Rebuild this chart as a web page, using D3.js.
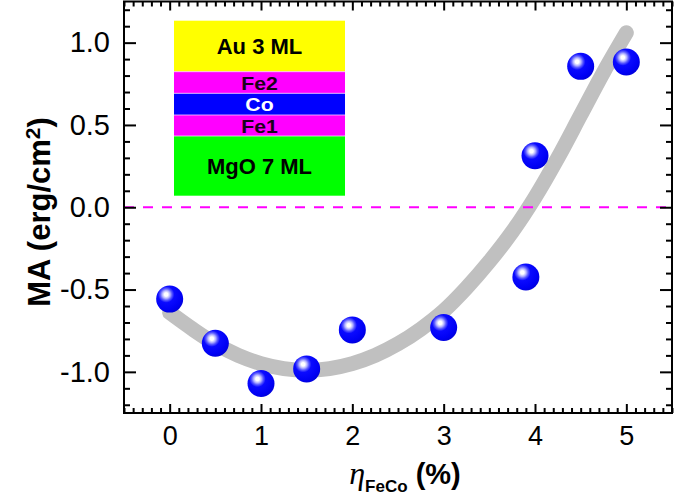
<!DOCTYPE html>
<html>
<head>
<meta charset="utf-8">
<script src="https://cdn.jsdelivr.net/npm/d3@7"></script>
<style>
  html, body { margin: 0; padding: 0; background: #fff; }
  svg { display: block; }
  text { font-family: "Liberation Sans", Arial, sans-serif; }
</style>
</head>
<body>
<svg id="chart" width="675" height="500"></svg>
<script>
// ---------------- data ----------------
const etaValues = [0, 0.5, 1, 1.5, 2, 3, 3.9, 4, 4.5, 5];
const maValues  = [-0.558, -0.826, -1.071, -0.982, -0.745, -0.731, -0.424, 0.313, 0.856, 0.882];

// smooth fit curve
const fitEta = [0, 0.25, 0.5, 0.75, 1, 1.25, 1.5, 1.75, 2, 2.25, 2.5, 2.75, 3, 3.25, 3.5, 3.75, 4, 4.25, 4.5, 4.75, 5];
const fitMA  = [-0.64, -0.74, -0.83, -0.90, -0.95, -0.98, -0.99, -0.98, -0.95, -0.90, -0.83, -0.74, -0.63, -0.49, -0.33, -0.15, 0.06, 0.30, 0.56, 0.82, 1.06];

const xTickValues = [0, 1, 2, 3, 4, 5];
const xTickLabels = ["0", "1", "2", "3", "4", "5"];
const yTickValues = [-1.0, -0.5, 0.0, 0.5, 1.0];
const yTickLabels = ["-1.0", "-0.5", "0.0", "0.5", "1.0"];

const layerNames  = ["Au 3 ML", "Fe2", "Co", "Fe1", "MgO 7 ML"];
const layerColors = ["#ffff00", "#ff00ff", "#0000ff", "#ff00ff", "#00ff00"];
const layerText   = ["#000000", "#1a001a", "#ffffff", "#1a001a", "#000000"];

// ---------------- layout ----------------
const svg = d3.select("#chart");
const pLeft = 124, pRight = 672, pTop = 1.5, pBottom = 413;

const x = d3.scaleLinear().domain([-0.5, 5.5]).range([pLeft, pRight]);
const y = d3.scaleLinear().domain([-1.25, 1.25]).range([pBottom, pTop]);

svg.append("rect").attr("width", 675).attr("height", 500).attr("fill", "#fff");

// gradient for spheres
const defs = svg.append("defs");
const grad = defs.append("radialGradient").attr("id", "sphere")
  .attr("cx", 0.37).attr("cy", 0.33).attr("r", 0.72).attr("fx", 0.37).attr("fy", 0.33);
[[0, "#ffffff"], [0.09, "#ffffff"], [0.2, "#b4b4ff"], [0.3, "#5a5aff"], [0.42, "#0a0aff"], [0.8, "#0000f4"], [1, "#0000d8"]]
  .forEach(([o, c]) => grad.append("stop").attr("offset", o).attr("stop-color", c));

// ---------------- fit curve ----------------
const fitPts = fitEta.map((v, i) => [v, fitMA[i]]);
svg.append("path")
  .datum(fitPts)
  .attr("d", d3.line().x(d => x(d[0])).y(d => y(d[1])).curve(d3.curveCatmullRom))
  .attr("fill", "none")
  .attr("stroke", "#c0c0c0")
  .attr("stroke-width", 15)
  .attr("stroke-linecap", "round");

// ---------------- zero line ----------------
svg.append("line")
  .attr("x1", x(-0.5)).attr("x2", x(5.5))
  .attr("y1", y(0)).attr("y2", y(0))
  .attr("stroke", "#ff00ff").attr("stroke-width", 2)
  .attr("stroke-dasharray", "10,9");

// ---------------- axes ----------------
const xMinor = d3.range(-5, 56).map(d => d / 10).filter(d => Math.abs(d - Math.round(d)) > 1e-6);
const yMinor = d3.range(-12, 13).map(d => d / 10).filter(d => Math.abs(d * 2 - Math.round(d * 2)) > 1e-6);

function styleAxis(g) {
  g.select(".domain").remove();
  g.selectAll("line").attr("stroke", "#000").attr("stroke-width", 2);
  g.selectAll("text").attr("fill", "#000").style("font-family", "'Liberation Sans', Arial, sans-serif");
}

// bottom
svg.append("g").attr("transform", `translate(0,${pBottom})`)
  .call(d3.axisBottom(x).tickValues(xTickValues).tickSize(-9).tickPadding(13)
        .tickFormat((d, i) => xTickLabels[i]))
  .call(styleAxis)
  .selectAll("text").style("font-size", "27px");
svg.append("g").attr("transform", `translate(0,${pBottom})`)
  .call(d3.axisBottom(x).tickValues(xMinor).tickSize(-5).tickFormat(""))
  .call(styleAxis);
// top
svg.append("g").attr("transform", `translate(0,${pTop})`)
  .call(d3.axisTop(x).tickValues(xTickValues).tickSize(-9).tickFormat(""))
  .call(styleAxis);
svg.append("g").attr("transform", `translate(0,${pTop})`)
  .call(d3.axisTop(x).tickValues(xMinor).tickSize(-5).tickFormat(""))
  .call(styleAxis);
// left
svg.append("g").attr("transform", `translate(${pLeft},0)`)
  .call(d3.axisLeft(y).tickValues(yTickValues).tickSize(-12).tickPadding(14)
        .tickFormat((d, i) => yTickLabels[i]))
  .call(styleAxis)
  .selectAll("text").style("font-size", "29px");
svg.append("g").attr("transform", `translate(${pLeft},0)`)
  .call(d3.axisLeft(y).tickValues(yMinor).tickSize(-6).tickFormat(""))
  .call(styleAxis);
// right
svg.append("g").attr("transform", `translate(${pRight},0)`)
  .call(d3.axisRight(y).tickValues(yTickValues).tickSize(-12).tickFormat(""))
  .call(styleAxis);
svg.append("g").attr("transform", `translate(${pRight},0)`)
  .call(d3.axisRight(y).tickValues(yMinor).tickSize(-6).tickFormat(""))
  .call(styleAxis);

// frame
svg.append("rect")
  .attr("x", pLeft).attr("y", pTop)
  .attr("width", pRight - pLeft).attr("height", pBottom - pTop)
  .attr("fill", "none").attr("stroke", "#000").attr("stroke-width", 2);

// ---------------- data points ----------------
svg.append("g").selectAll("circle")
  .data(etaValues.map((v, i) => [v, maValues[i]]))
  .join("circle")
  .attr("cx", d => x(d[0]))
  .attr("cy", d => y(d[1]))
  .attr("r", 13.5)
  .attr("fill", "url(#sphere)");

// ---------------- layer stack inset ----------------
const stackX0 = 174, stackX1 = 345;
const layerEdges = [20.7, 71.7, 93.3, 115, 136, 195.7];
const layerFont = [22, 19, 19, 19, 22];
const inset = svg.append("g");
layerNames.forEach((name, i) => {
  inset.append("rect")
    .attr("x", stackX0).attr("y", layerEdges[i])
    .attr("width", stackX1 - stackX0).attr("height", layerEdges[i + 1] - layerEdges[i])
    .attr("fill", layerColors[i]);
  const t = inset.append("text")
    .attr("x", (stackX0 + stackX1) / 2)
    .attr("y", (layerEdges[i] + layerEdges[i + 1]) / 2)
    .attr("dy", "0.37em")
    .attr("text-anchor", "middle")
    .attr("fill", layerText[i])
    .style("font-size", layerFont[i] + "px").style("font-weight", "bold")
    .text(name);
  if (layerFont[i] < 20) {
    const w = t.node().getComputedTextLength();
    t.attr("textLength", w * 1.12).attr("lengthAdjust", "spacingAndGlyphs");
  }
});
[71.7, 93.3, 115, 136].forEach(e => {
  inset.append("line").attr("x1", stackX0).attr("x2", stackX1)
    .attr("y1", e).attr("y2", e).attr("stroke", "#ffd0ff").attr("stroke-width", 0.8);
});

// ---------------- axis titles ----------------
const yt = svg.append("text")
  .attr("transform", "translate(50,212) rotate(-90)")
  .attr("text-anchor", "middle")
  .style("font-size", "31px").style("font-weight", "bold").attr("fill", "#000");
yt.append("tspan").text("MA (erg/cm");
yt.append("tspan").attr("dy", "-0.5em").style("font-size", "21px").text("2");
yt.append("tspan").attr("dy", "0.34em").text(")");

const xt = svg.append("text")
  .attr("x", 405).attr("y", 484)
  .attr("text-anchor", "middle").attr("fill", "#000");
xt.append("tspan").style("font-family", "'Liberation Serif', 'Times New Roman', serif")
  .style("font-style", "italic").style("font-size", "32px").text("η");
xt.append("tspan").attr("dy", "0.45em").style("font-size", "17px").style("font-weight", "bold").text("FeCo");
xt.append("tspan").attr("dy", "-0.28em").style("font-size", "29px").style("font-weight", "bold").text(" (%)");
</script>
</body>
</html>
